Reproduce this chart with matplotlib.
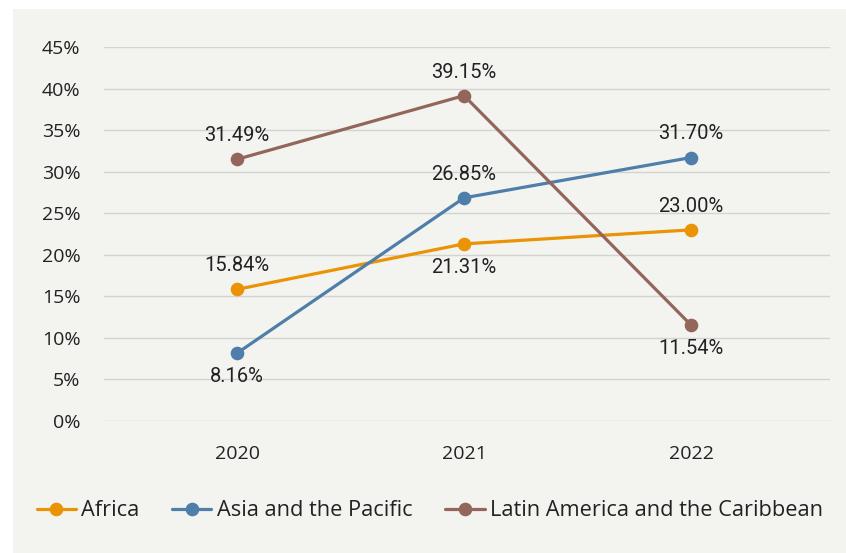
import matplotlib.pyplot as plt
from matplotlib.patches import Rectangle

years = ["2020", "2021", "2022"]
africa = [15.84, 21.31, 23.00]
asia_pacific = [8.16, 26.85, 31.70]
latin_america = [31.49, 39.15, 11.54]
series_names = ["Africa", "Asia and the Pacific", "Latin America and the Caribbean"]
# label placement per point: +1 above, -1 below
africa_pos = [1, -1, 1]
asia_pos = [-1, 1, 1]
latin_pos = [1, 1, -1]
y_ticks = [0, 5, 10, 15, 20, 25, 30, 35, 40, 45]

COLORS = ["#E99305", "#4E7EA9", "#94655A"]
BG = "#F3F4F0"
GRID = "#D3D3CF"
TEXT = "#222222"

plt.rcParams["font.family"] = ["Open Sans", "DejaVu Sans"]

fig = plt.figure(figsize=(8.46, 5.53), dpi=100)
fig.patch.set_facecolor("white")

# light panel behind the whole chart
bg = fig.add_axes([13 / 846, 0, 1 - 13 / 846, 1 - 9 / 553], zorder=-1)
bg.add_patch(Rectangle((0, 0), 1, 1, facecolor=BG, edgecolor="none", transform=bg.transAxes))
bg.set_axis_off()

ax = fig.add_axes([104 / 846, 132 / 553, 726 / 846, 374 / 553])
ax.patch.set_alpha(0)

x = list(range(len(years)))
for vals, pos, name, color in zip(
    [africa, asia_pacific, latin_america],
    [africa_pos, asia_pos, latin_pos],
    series_names,
    COLORS,
):
    ax.plot(x, vals, color=color, lw=2.3, marker="o", ms=8.8, label=name,
            solid_capstyle="round", zorder=3)
    for xi, v, p in zip(x, vals, pos):
        ax.annotate(f"{v:.2f}%", (xi, v), xytext=(0, 17 * p), textcoords="offset points",
                    ha="center", va="center", fontsize=14.5, color=TEXT,
                    family=["Roboto", "DejaVu Sans"], zorder=4)

ax.set_xlim(-0.586, 2.612)
ax.set_ylim(0, 45)
ax.set_yticks(y_ticks)
ax.set_yticklabels([f"{t}%" for t in y_ticks])
ax.set_xticks(x)
ax.set_xticklabels(years)
ax.grid(axis="y", color=GRID, lw=1.0)
ax.set_axisbelow(True)
for s in ax.spines.values():
    s.set_visible(False)
ax.tick_params(axis="both", length=0, labelsize=14, colors=TEXT)
ax.tick_params(axis="y", pad=17)
ax.tick_params(axis="x", pad=17)

fig.legend(loc="center", bbox_to_anchor=(0.508, 1 - 511 / 553), ncol=3, frameon=False,
           fontsize=15.7, handlelength=1.8, handletextpad=0.25, columnspacing=1.5,
           labelcolor=TEXT)

fig.savefig("out.png", dpi=100, facecolor=fig.get_facecolor())
